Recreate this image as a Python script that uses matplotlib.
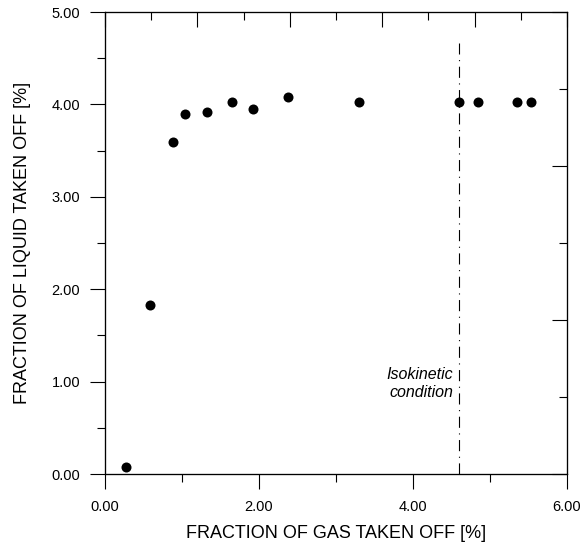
import matplotlib
matplotlib.use("Agg")
import matplotlib.pyplot as plt
from matplotlib.ticker import MultipleLocator, FormatStrFormatter, NullFormatter

plt.rcParams['font.family'] = ['Liberation Sans', 'DejaVu Sans']

# Take-off measurements
gas_taken_off = [0.27, 0.59, 0.88, 1.04, 1.32, 1.645, 1.92, 2.38, 3.30, 4.60, 4.84, 5.35, 5.53]
liquid_taken_off = [0.08, 1.83, 3.59, 3.90, 3.92, 4.03, 3.95, 4.08, 4.03, 4.03, 4.03, 4.03, 4.03]
isokinetic_x = 4.60
isokinetic_top = 4.66

fig = plt.figure(figsize=(5.82, 5.46), dpi=100)
ax = fig.add_axes([105 / 582, 1 - 474 / 546, 462 / 582, 462 / 546])

ax.scatter(gas_taken_off, liquid_taken_off, s=52, color='black', zorder=3, linewidths=0)
ax.plot([isokinetic_x, isokinetic_x], [0, isokinetic_top], color='black', lw=0.8,
        dashes=(10, 5, 1, 5))
ax.text(isokinetic_x - 0.08, 0.98, 'Isokinetic\ncondition', ha='right', va='center',
        style='italic', fontsize=11.5, linespacing=1.2)

ax.set_xlim(0, 6)
ax.set_ylim(0, 5)
ax.xaxis.set_major_locator(MultipleLocator(2))
ax.xaxis.set_minor_locator(MultipleLocator(1))
ax.yaxis.set_major_locator(MultipleLocator(1))
ax.yaxis.set_minor_locator(MultipleLocator(0.5))
ax.xaxis.set_major_formatter(FormatStrFormatter('%.2f'))
ax.yaxis.set_major_formatter(FormatStrFormatter('%.2f'))

ax.tick_params(which='major', direction='out', length=10.8, width=0.8, labelsize=10.5)
ax.tick_params(which='minor', direction='out', length=5.8, width=0.8)
ax.tick_params(axis='x', which='major', pad=8)
ax.tick_params(axis='y', which='major', pad=7)

for s in ax.spines.values():
    s.set_linewidth(0.8)

ax.set_xlabel('FRACTION OF GAS TAKEN OFF [%]', fontsize=13, labelpad=8)
ax.set_ylabel('FRACTION OF LIQUID TAKEN OFF [%]', fontsize=13, labelpad=15)

# Inward ticks on the top and right frame
top = ax.twiny()
top.set_xlim(0, 10)
top.xaxis.set_major_locator(MultipleLocator(2))
top.xaxis.set_minor_locator(MultipleLocator(1))
top.xaxis.set_major_formatter(NullFormatter())
top.tick_params(which='major', direction='in', length=10.8, width=0.8)
top.tick_params(which='minor', direction='in', length=5.8, width=0.8)

right = ax.twinx()
right.set_ylim(0, 6)
right.yaxis.set_major_locator(MultipleLocator(2))
right.yaxis.set_minor_locator(MultipleLocator(1))
right.yaxis.set_major_formatter(NullFormatter())
right.tick_params(which='major', direction='in', length=10.8, width=0.8)
right.tick_params(which='minor', direction='in', length=5.8, width=0.8)

for a in (top, right):
    for s in a.spines.values():
        s.set_linewidth(0.8)

fig.savefig('out.png', dpi=100)
